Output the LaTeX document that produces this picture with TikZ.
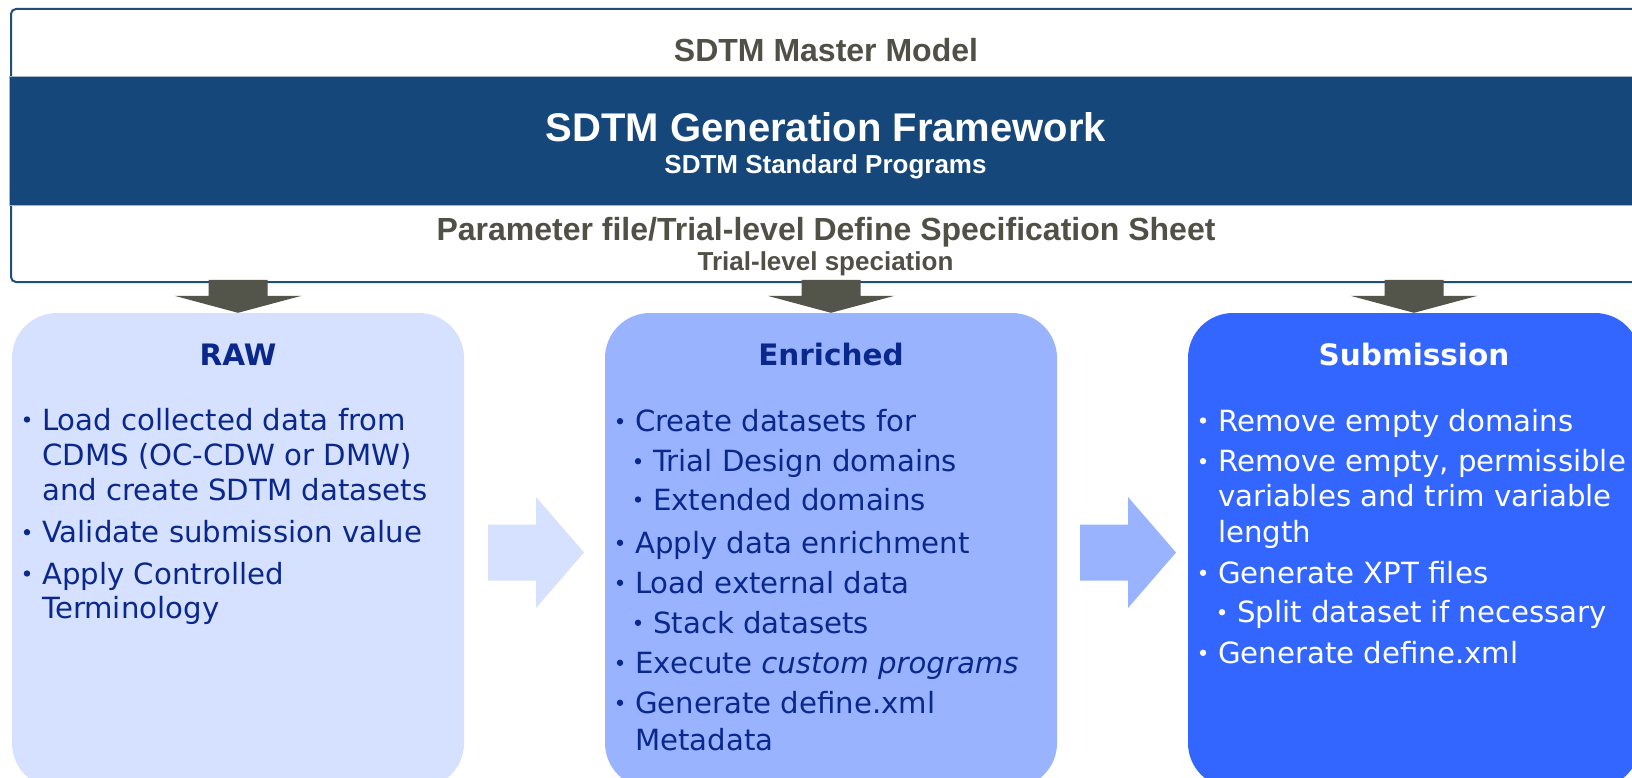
\documentclass[tikz,border=0pt]{standalone}
\usepackage{fontspec}
\setmainfont{DejaVu Sans}
\newfontfamily\hdrfont{Liberation Sans}
\usetikzlibrary{calc}

\definecolor{bandblue}{HTML}{15477A}
\definecolor{frameblue}{HTML}{1F4E79}
\definecolor{bandedge}{HTML}{A3B6C9}
\definecolor{hdrgrey}{HTML}{505047}
\definecolor{arrowgrey}{HTML}{53544A}
\definecolor{rawfill}{HTML}{D6E0FF}
\definecolor{enrfill}{HTML}{99B3FF}
\definecolor{subfill}{HTML}{3366FF}
\definecolor{navytext}{HTML}{0A288C}

\tikzset{
  stage/.style={rounded corners=45pt, minimum width=452pt, minimum height=475pt, inner sep=0pt, draw=none},
  hdr/.style={font=\hdrfont\bfseries, anchor=base, inner sep=0pt},
  stitle/.style={font=\bfseries\fontsize{29.5}{35}\selectfont, anchor=base, inner sep=0pt},
  itemline/.style={font=\fontsize{29.2}{35}\selectfont, anchor=base west, inner sep=0pt},
  darrow/.pic={\path[pic actions] (-29.5,-33) -- (-29.5,-17) -- (-63.5,-17) -- (0,0)
                 -- (63.5,-17) -- (29.5,-17) -- (29.5,-33) -- cycle;},
  harrow/.pic={\path[pic actions] (-48,-28) -- (0,-28) -- (0,-55.5) -- (48,0)
                 -- (0,55.5) -- (0,28) -- (-48,28) -- cycle;},
}
% small round bullet, centred a little above the baseline given
\newcommand\dotat[3]{\fill[#1] (#2,#3-10.5) circle[radius=3.2pt];}

\begin{document}
\begin{tikzpicture}[x=1pt, y=-1pt]
\clip (0,0) rectangle (1632,778);
\fill[white] (0,0) rectangle (1632,778);

% ---------- framework banner ----------
\node[draw=frameblue, line width=2pt, fill=white, rounded corners=5pt,
      minimum width=1640pt, minimum height=273pt, inner sep=0pt, anchor=north west]
      (model) at (10,8) {};
\node[fill=bandblue, draw=bandedge, line width=0.8pt, minimum width=1642pt,
      minimum height=129pt, inner sep=0pt, anchor=north west] (band) at (9,76) {};

\node[hdr, text=hdrgrey, font=\hdrfont\bfseries\fontsize{32}{38}\selectfont] (master) at (826,61.7) {SDTM Master Model};
\node[hdr, text=white, font=\hdrfont\bfseries\fontsize{40}{48}\selectfont] (gen) at (826,141.7) {SDTM Generation Framework};
\node[hdr, text=white, font=\hdrfont\bfseries\fontsize{26}{31}\selectfont] (std) at (825.5,173.3) {SDTM Standard Programs};
\node[hdr, text=hdrgrey, font=\hdrfont\bfseries\fontsize{32}{38}\selectfont] (param) at (826,240) {Parameter file/Trial-level Define Specification Sheet};
\node[hdr, text=hdrgrey, font=\hdrfont\bfseries\fontsize{26}{31}\selectfont] (trial) at (825.5,270.7) {Trial-level speciation};

% ---------- stage boxes ----------
\node[stage, fill=rawfill] (raw) at (238,550.5) {};
\node[stage, fill=enrfill] (enr) at (831,550.5) {};
\node[stage, fill=subfill] (sub) at (1414,550.5) {};

% ---------- arrows ----------
\pic[fill=arrowgrey] at (raw.north) {darrow};
\pic[fill=arrowgrey] at (enr.north) {darrow};
\pic[fill=arrowgrey] at (sub.north) {darrow};
\pic[fill=rawfill] at (536,552.5) {harrow};
\pic[fill=enrfill] at (1128,552.5) {harrow};

% ---------- stage titles ----------
\node[stitle, text=navytext] (rawt) at (238,365) {RAW};
\node[stitle, text=navytext] (enrt) at (831,365) {Enriched};
\node[stitle, text=white] (subt) at (1414,365) {Submission};

% ---------- RAW items ----------
\begin{scope}[every node/.style={itemline, text=navytext}]
\node (r1) at (42,430) {Load collected data from};
\node (r2) at (42,465) {CDMS (OC-CDW or DMW)};
\node (r3) at (42,500) {and create SDTM datasets};
\node (r4) at (42,542.7) {Validate submission value};
\node (r5) at (42,584) {Apply Controlled};
\node (r6) at (42,618.3) {Terminology};
\end{scope}
\dotat{navytext}{27}{430}
\dotat{navytext}{27}{542.7}
\dotat{navytext}{27}{584}

% ---------- Enriched items ----------
\begin{scope}[every node/.style={itemline, text=navytext}]
\node (e1) at (635,431.7) {Create datasets for};
\node (e2) at (653,471.7) {Trial Design domains};
\node (e3) at (653,510) {Extended domains};
\node (e4) at (635,553.3) {Apply data enrichment};
\node (e5) at (635,593.3) {Load external data};
\node (e6) at (653,633.3) {Stack datasets};
\node (e7) at (635,673.3) {Execute \textit{custom programs}};
\node (e8) at (635,713.3) {Generate define.xml};
\node (e9) at (635,750) {Metadata};
\end{scope}
\dotat{navytext}{620}{431.7}
\dotat{navytext}{638}{471.7}
\dotat{navytext}{638}{510}
\dotat{navytext}{620}{553.3}
\dotat{navytext}{620}{593.3}
\dotat{navytext}{638}{633.3}
\dotat{navytext}{620}{673.3}
\dotat{navytext}{620}{713.3}

% ---------- Submission items ----------
\begin{scope}[every node/.style={itemline, text=white}]
\node (s1) at (1218,431) {Remove empty domains};
\node (s2) at (1218,471.7) {Remove empty, permissible};
\node (s3) at (1218,506.7) {variables and trim variable};
\node (s4) at (1218,542.7) {length};
\node (s5) at (1218,583.3) {Generate XPT files};
\node (s6) at (1237,622.7) {Split dataset if necessary};
\node (s7) at (1218,663.3) {Generate define.xml};
\end{scope}
\dotat{white}{1203}{431}
\dotat{white}{1203}{471.7}
\dotat{white}{1203}{583.3}
\dotat{white}{1222}{622.7}
\dotat{white}{1203}{663.3}
\end{tikzpicture}
\end{document}
